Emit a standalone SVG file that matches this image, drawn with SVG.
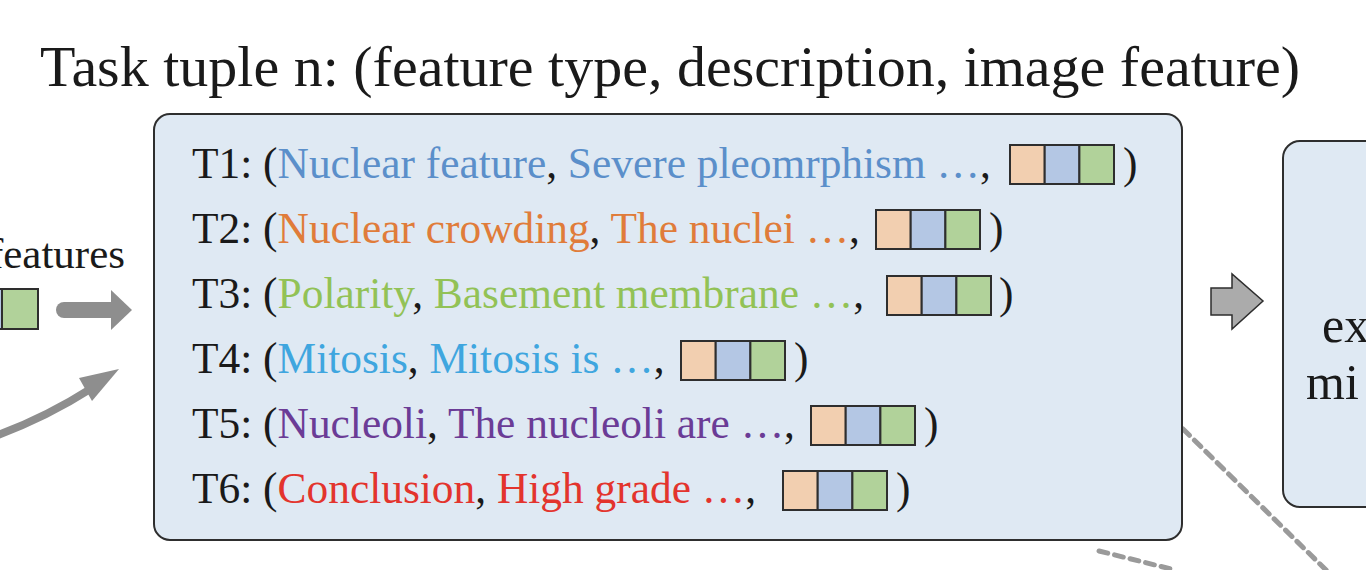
<svg xmlns="http://www.w3.org/2000/svg" width="1366" height="570" viewBox="0 0 1366 570">
<defs>
<style>
.t{font-family:"Liberation Serif","Times New Roman",serif;fill:#1a1a1a}
.row{font-size:43.4px}
.panel{fill:#dfe9f3;stroke:#2e2e2e;stroke-width:2}
.c1{fill:#f2cfb0;stroke:#2e2e2e;stroke-width:2}
.c2{fill:#b4c7e4;stroke:#2e2e2e;stroke-width:2}
.c3{fill:#b1d29a;stroke:#2e2e2e;stroke-width:2}
.dot{fill:none;stroke:#9a9a9a;stroke-width:5;stroke-dasharray:9 7;stroke-linecap:round}
</style>
<g id="fv">
<rect class="c1" x="0" y="0" width="34.7" height="39"/>
<rect class="c2" x="34.7" y="0" width="34.7" height="39"/>
<rect class="c3" x="69.4" y="0" width="34.6" height="39"/>
</g>
</defs>

<text id="title" class="t" x="40" y="86" font-size="58">Task tuple n: (feature type, description, image feature)</text>

<g id="left-features">
<text class="t" x="125" y="268" font-size="43" text-anchor="end">features</text>
<rect class="c2" x="-34" y="289" width="36" height="40"/>
<rect class="c3" x="2" y="289" width="36" height="40"/>
</g>

<g id="connectors">
<line x1="64" y1="310" x2="114" y2="310" stroke="#8e8e8e" stroke-width="16" stroke-linecap="round"/>
<polygon points="111,290 132,310 111,330" fill="#8e8e8e"/>
<path d="M -5 436 Q 45 418 92 388" fill="none" stroke="#8e8e8e" stroke-width="8"/>
<polygon points="119,369 79,378 92,401" fill="#8e8e8e"/>
<polygon points="1211,288 1232,288 1232,274 1263,301 1232,329 1232,315 1211,315" fill="#ababab" stroke="#2e2e2e" stroke-width="1.5"/>
<line class="dot" x1="1183" y1="429" x2="1328" y2="572"/>
<line class="dot" x1="1099" y1="551" x2="1175" y2="570"/>
</g>

<g id="tuple-panel">
<rect class="panel" x="154" y="114" width="1028" height="426" rx="16"/>
<g id="t1">
<text class="t row" x="192" y="178">T1: (<tspan fill="#5b8fca">Nuclear feature</tspan>, <tspan fill="#5b8fca">Severe pleomrphism …</tspan>, </text>
<use href="#fv" x="1010" y="145"/>
<text class="t row" x="1123" y="178">)</text>
</g>
<g id="t2">
<text class="t row" x="192" y="243">T2: (<tspan fill="#e07c3a">Nuclear crowding</tspan>, <tspan fill="#e07c3a">The nuclei …</tspan>, </text>
<use href="#fv" x="876" y="210"/>
<text class="t row" x="989" y="243">)</text>
</g>
<g id="t3">
<text class="t row" x="192" y="308">T3: (<tspan fill="#92c256">Polarity</tspan>, <tspan fill="#92c256">Basement membrane …</tspan>, </text>
<use href="#fv" x="887" y="276"/>
<text class="t row" x="999" y="308">)</text>
</g>
<g id="t4">
<text class="t row" x="192" y="373">T4: (<tspan fill="#3fa6df">Mitosis</tspan>, <tspan fill="#3fa6df">Mitosis is …</tspan>, </text>
<use href="#fv" x="681" y="341"/>
<text class="t row" x="794" y="373">)</text>
</g>
<g id="t5">
<text class="t row" x="192" y="438">T5: (<tspan fill="#6b3c96">Nucleoli</tspan>, <tspan fill="#6b3c96">The nucleoli are …</tspan>, </text>
<use href="#fv" x="811" y="406"/>
<text class="t row" x="924" y="438">)</text>
</g>
<g id="t6">
<text class="t row" x="192" y="503">T6: (<tspan fill="#e3342d">Conclusion</tspan>, <tspan fill="#e3342d">High grade …</tspan>, </text>
<use href="#fv" x="783" y="471"/>
<text class="t row" x="896" y="503">)</text>
</g>
</g>

<g id="right-panel">
<rect class="panel" x="1283" y="141" width="140" height="366" rx="17"/>
<text class="t" x="1322" y="342" font-size="50">ex</text>
<text class="t" x="1306" y="399" font-size="50">mi</text>
</g>
</svg>
